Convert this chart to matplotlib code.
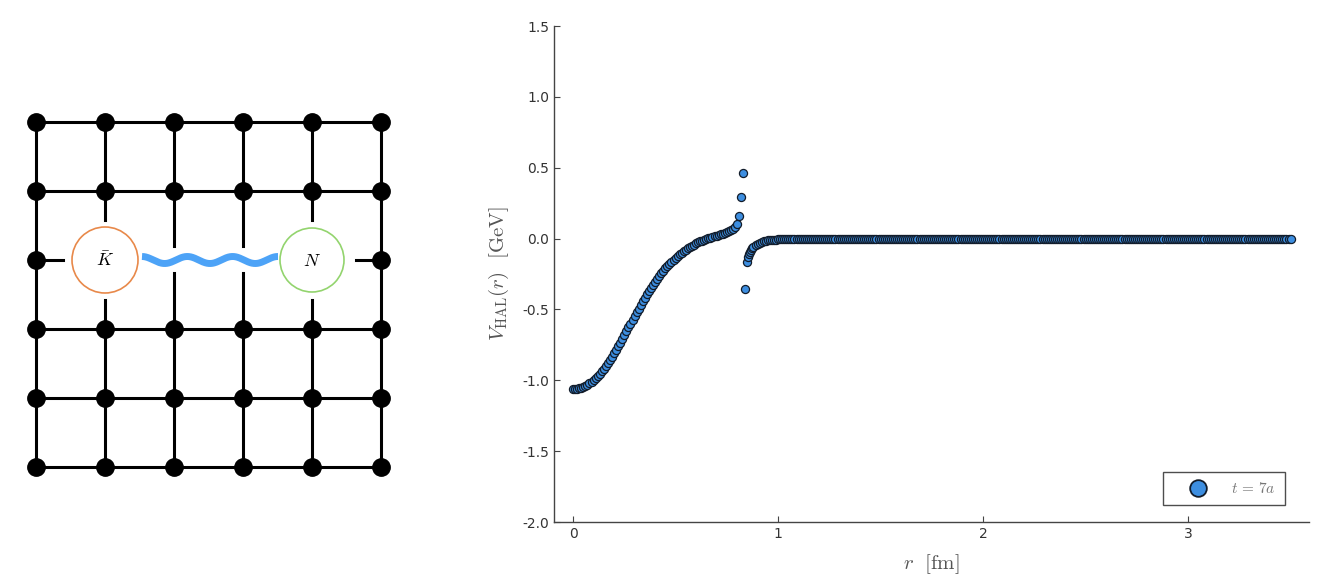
import numpy as np
import matplotlib
matplotlib.use('Agg')
import matplotlib.pyplot as plt
from matplotlib.patches import Circle
from matplotlib.lines import Line2D

plt.rcParams['mathtext.fontset'] = 'cm'

# potential V_HAL(r) at t = 7a (GeV vs fm)
r_core = [0.00, 0.01, 0.02, 0.03, 0.04, 0.05, 0.06, 0.07, 0.08, 0.09,
          0.10, 0.11, 0.12, 0.13, 0.14, 0.15, 0.16, 0.17, 0.18, 0.19,
          0.20, 0.21, 0.22, 0.23, 0.24, 0.25, 0.26, 0.27, 0.28, 0.29,
          0.30, 0.31, 0.32, 0.33, 0.34, 0.35, 0.36, 0.37, 0.38, 0.39,
          0.40, 0.41, 0.42, 0.43, 0.44, 0.45, 0.46, 0.47, 0.48, 0.49,
          0.50, 0.51, 0.52, 0.53, 0.54, 0.55, 0.56, 0.57, 0.58, 0.59,
          0.60, 0.61, 0.62, 0.63, 0.64, 0.65, 0.66, 0.67, 0.68, 0.69,
          0.70, 0.71, 0.72, 0.73, 0.74, 0.75, 0.76, 0.77, 0.78, 0.79,
          0.80]
v_core = [-1.062, -1.062, -1.060, -1.057, -1.052, -1.047, -1.040, -1.032, -1.022, -1.011,
          -0.998, -0.985, -0.970, -0.954, -0.936, -0.918, -0.898, -0.878, -0.856, -0.834,
          -0.810, -0.785, -0.760, -0.734, -0.708, -0.681, -0.654, -0.627, -0.600, -0.573,
          -0.546, -0.520, -0.494, -0.468, -0.443, -0.418, -0.394, -0.371, -0.348, -0.326,
          -0.305, -0.285, -0.265, -0.246, -0.228, -0.211, -0.194, -0.178, -0.163, -0.149,
          -0.135, -0.122, -0.110, -0.099, -0.088, -0.078, -0.068, -0.059, -0.050, -0.042,
          -0.034, -0.027, -0.020, -0.014, -0.008, -0.003, 0.002, 0.007, 0.012, 0.016,
          0.021, 0.025, 0.030, 0.035, 0.040, 0.045, 0.052, 0.060, 0.070, 0.084,
          0.105]

# jump around r ~ 0.83 fm and the quick return to zero
r_jump = [0.81, 0.82, 0.83, 0.84, 0.85, 0.855, 0.86, 0.865, 0.87, 0.875,
          0.88, 0.89, 0.90, 0.91, 0.92, 0.93, 0.94, 0.95, 0.96, 0.97,
          0.98, 0.99, 1.00, 1.01, 1.02, 1.03, 1.04, 1.05, 1.06, 1.07,
          1.08, 1.09]
v_jump = [0.160, 0.290, 0.460, -0.355, -0.163, -0.130, -0.108, -0.092, -0.080, -0.069,
          -0.060, -0.047, -0.036, -0.029, -0.024, -0.019, -0.016, -0.013, -0.011, -0.009,
          -0.008, -0.007, -0.006, -0.005, -0.004, -0.004, -0.003, -0.003, -0.002, -0.002,
          -0.001, -0.001]

# flat tail, one sample every 0.01 fm from 1.10 to 3.50
r_tail = np.round(np.arange(1.10, 3.5001, 0.01), 2)
v_tail = [0.0, 0.0, 0.0, 0.0, 0.0, 0.0, 0.0, 0.0, 0.0, 0.0, 0.0, 0.0, 0.0, 0.0, 0.0, 0.0, 0.0, 0.0, 0.0, 0.0,
          0.0, 0.0, 0.0, 0.0, 0.0, 0.0, 0.0, 0.0, 0.0, 0.0, 0.0, 0.0, 0.0, 0.0, 0.0, 0.0, 0.0, 0.0, 0.0, 0.0,
          0.0, 0.0, 0.0, 0.0, 0.0, 0.0, 0.0, 0.0, 0.0, 0.0, 0.0, 0.0, 0.0, 0.0, 0.0, 0.0, 0.0, 0.0, 0.0, 0.0,
          0.0, 0.0, 0.0, 0.0, 0.0, 0.0, 0.0, 0.0, 0.0, 0.0, 0.0, 0.0, 0.0, 0.0, 0.0, 0.0, 0.0, 0.0, 0.0, 0.0,
          0.0, 0.0, 0.0, 0.0, 0.0, 0.0, 0.0, 0.0, 0.0, 0.0, 0.0, 0.0, 0.0, 0.0, 0.0, 0.0, 0.0, 0.0, 0.0, 0.0,
          0.0, 0.0, 0.0, 0.0, 0.0, 0.0, 0.0, 0.0, 0.0, 0.0, 0.0, 0.0, 0.0, 0.0, 0.0, 0.0, 0.0, 0.0, 0.0, 0.0,
          0.0, 0.0, 0.0, 0.0, 0.0, 0.0, 0.0, 0.0, 0.0, 0.0, 0.0, 0.0, 0.0, 0.0, 0.0, 0.0, 0.0, 0.0, 0.0, 0.0,
          0.0, 0.0, 0.0, 0.0, 0.0, 0.0, 0.0, 0.0, 0.0, 0.0, 0.0, 0.0, 0.0, 0.0, 0.0, 0.0, 0.0, 0.0, 0.0, 0.0,
          0.0, 0.0, 0.0, 0.0, 0.0, 0.0, 0.0, 0.0, 0.0, 0.0, 0.0, 0.0, 0.0, 0.0, 0.0, 0.0, 0.0, 0.0, 0.0, 0.0,
          0.0, 0.0, 0.0, 0.0, 0.0, 0.0, 0.0, 0.0, 0.0, 0.0, 0.0, 0.0, 0.0, 0.0, 0.0, 0.0, 0.0, 0.0, 0.0, 0.0,
          0.0, 0.0, 0.0, 0.0, 0.0, 0.0, 0.0, 0.0, 0.0, 0.0, 0.0, 0.0, 0.0, 0.0, 0.0, 0.0, 0.0, 0.0, 0.0, 0.0,
          0.0, 0.0, 0.0, 0.0, 0.0, 0.0, 0.0, 0.0, 0.0, 0.0, 0.0, 0.0, 0.0, 0.0, 0.0, 0.0, 0.0, 0.0, 0.0, 0.0,
          0.0]

r = np.concatenate([r_core, r_jump, r_tail])
v = np.concatenate([v_core, v_jump, v_tail])

x_ticks = [0, 1, 2, 3]
y_ticks = [-2.0, -1.5, -1.0, -0.5, 0.0, 0.5, 1.0, 1.5]

fig = plt.figure(figsize=(13.26, 5.86), dpi=100)

# ---- left: lattice sketch (axes in pixel units) ----
ax0 = fig.add_axes([0, 0, 420 / 1326, 1])
ax0.set_xlim(0, 420)
ax0.set_ylim(586, 0)
ax0.axis('off')

xs = [36, 105, 174, 243, 312, 381]
ys = [122, 191, 260, 329, 398, 467]
lw = 2.2
mid = ys[2]
# horizontal lines, middle row only short stubs
for y in ys:
    if y == mid:
        ax0.plot([xs[0], 63], [y, y], color='k', lw=lw)
        ax0.plot([356, xs[-1]], [y, y], color='k', lw=lw)
    else:
        ax0.plot([xs[0], xs[-1]], [y, y], color='k', lw=lw)
# vertical lines, broken around the middle row
for i, x in enumerate(xs):
    if i in (0, 5):
        ax0.plot([x, x], [ys[0], ys[-1]], color='k', lw=lw)
    elif i in (1, 4):
        ax0.plot([x, x], [ys[0], 220], color='k', lw=lw)
        ax0.plot([x, x], [300, ys[-1]], color='k', lw=lw)
    else:
        ax0.plot([x, x], [ys[0], 246], color='k', lw=lw)
        ax0.plot([x, x], [273, ys[-1]], color='k', lw=lw)
# lattice sites
for i, x in enumerate(xs):
    for y in ys:
        if y == mid and 0 < i < 5:
            continue
        ax0.plot(x, y, 'o', color='k', ms=12.5, zorder=3)

# wavy link between the hadrons
wx = np.linspace(142, 278, 300)
wy = mid - 3.5 * np.cos(2 * np.pi * (wx - 142) / 45.3)
ax0.plot(wx, wy, color='#4da3f7', lw=5, solid_capstyle='butt')

ax0.add_patch(Circle((105, mid), 33, fill=False, ec='#e8894a', lw=1.2))
ax0.add_patch(Circle((312, mid), 32, fill=False, ec='#93d46e', lw=1.2))
ax0.text(105, mid + 1, r'$\bar{K}$', ha='center', va='center', fontsize=13)
ax0.text(312, mid + 1, r'$N$', ha='center', va='center', fontsize=13)

# ---- right: potential ----
ax = fig.add_axes([554 / 1326, 1 - 522 / 586, 755 / 1326, 496 / 586])
ax.scatter(r, v, s=34, color='#3d8ee0', edgecolors='#121c2a', linewidths=0.9, zorder=3)

ax.set_xlim(-0.093, 3.59)
ax.set_ylim(-2.0, 1.5)
ax.set_xticks(x_ticks)
ax.set_yticks(y_ticks)
ax.set_yticklabels(['%.1f' % t for t in y_ticks])
for s in ['top', 'right']:
    ax.spines[s].set_visible(False)
for s in ['left', 'bottom']:
    ax.spines[s].set_color('#444444')
    ax.spines[s].set_linewidth(1.0)
ax.tick_params(direction='in', length=4, width=0.8, color='#444444',
               labelcolor='#333333', labelsize=10)
ax.set_ylabel(r'$V_{\mathrm{HAL}}(r)\ \ [\mathrm{GeV}]$', fontsize=15, color='#555555', labelpad=8)
ax.set_xlabel(r'$r\ \ [\mathrm{fm}]$', fontsize=15, color='#555555', labelpad=8)

handle = Line2D([], [], ls='none', marker='o', ms=12, mfc='#3d8ee0', mec='#121c2a', mew=1.3)
leg = ax.legend([handle], [r'$t\,=\,7a$'], loc='lower right', bbox_to_anchor=(0.968, 0.034),
                borderaxespad=0, fancybox=False, frameon=True, handlelength=3.37,
                handletextpad=0.47, borderpad=0.6, fontsize=11)
leg.get_frame().set_edgecolor('#222222')
leg.get_frame().set_linewidth(1.0)
for t in leg.get_texts():
    t.set_color('#777777')

fig.savefig('out.png', dpi=100)
